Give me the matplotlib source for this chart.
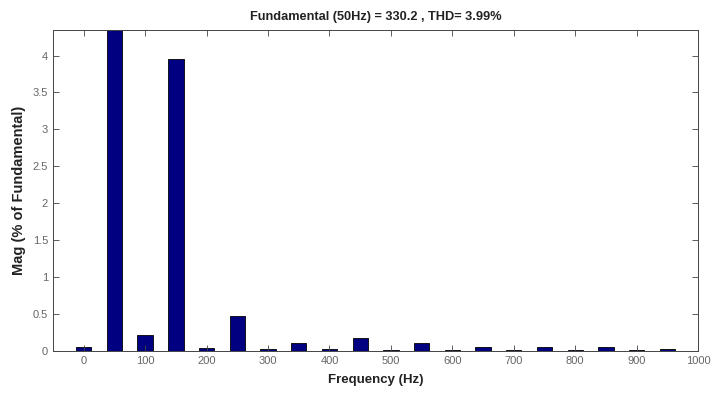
import matplotlib
matplotlib.use('Agg')
import matplotlib.pyplot as plt

plt.rcParams['font.family'] = ['Liberation Sans', 'DejaVu Sans']

# harmonic spectrum, magnitude in % of fundamental
freqs = [0, 50, 100, 150, 200, 250, 300, 350, 400, 450,
         500, 550, 600, 650, 700, 750, 800, 850, 900, 950]
mags = [0.05, 100.0, 0.22, 3.95, 0.04, 0.48, 0.03, 0.11, 0.03, 0.18,
        0.02, 0.11, 0.02, 0.05, 0.02, 0.05, 0.01, 0.06, 0.01, 0.03]
xticks = [0, 100, 200, 300, 400, 500, 600, 700, 800, 900, 1000]
yticks = [0, 0.5, 1, 1.5, 2, 2.5, 3, 3.5, 4]

fig = plt.figure(figsize=(7.22, 3.95), dpi=100)
ax = fig.add_axes([0.0734, 0.111, 0.8935, 0.813])

ax.bar(freqs, mags, width=25, color='#000080', edgecolor='black', linewidth=0.6)

ax.set_xlim(-50, 1000)
ax.set_ylim(0, 4.345)
ax.set_xticks(xticks)
ax.set_yticks(yticks)
ax.set_yticklabels(['0', '0.5', '1', '1.5', '2', '2.5', '3', '3.5', '4'])
ax.tick_params(direction='in', top=True, right=True, length=4, width=0.6,
               labelsize=8, labelcolor='#666666', color='#444444')
for s in ax.spines.values():
    s.set_linewidth(0.7)
    s.set_color('#444444')

ax.set_xlabel('Frequency (Hz)', fontsize=9.5, fontweight='bold', labelpad=6, color='#222222')
ax.set_ylabel('Mag (% of Fundamental)', fontsize=10.5, fontweight='bold', labelpad=5, color='#222222')
ax.set_title('Fundamental (50Hz) = 330.2 , THD= 3.99%', fontsize=9.2, fontweight='bold', pad=7, color='#222222')

fig.savefig('out.png', dpi=100)
